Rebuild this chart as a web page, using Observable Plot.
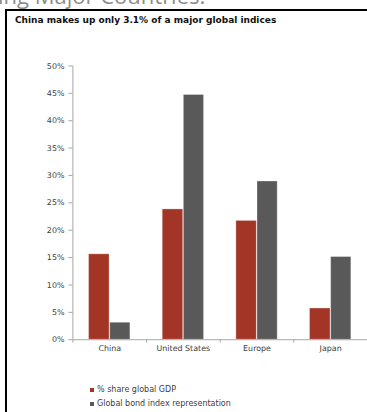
<!DOCTYPE html>
<html>
<head>
<meta charset="utf-8">
<script src="https://cdn.jsdelivr.net/npm/d3@7"></script>
<script src="https://cdn.jsdelivr.net/npm/@observablehq/plot@0.6"></script>
<style>
  html, body { margin: 0; padding: 0; background: #fff; }
  body { width: 367px; height: 412px; overflow: hidden; position: relative; }
  #bgtitle { position: absolute; left: -2px; top: -16px; font-family: "Open Sans", sans-serif; font-size: 22px; line-height: 22px; color: #8c8c8c; white-space: nowrap; }
  #box { position: absolute; left: 5px; top: 9px; width: 420px; height: 460px; border-left: 2px solid #000; border-top: 2px solid #000; }
  #title { position: absolute; left: 15px; top: 15px; font-family: "DejaVu Sans", sans-serif; font-weight: bold; font-size: 9px; color: #111; white-space: nowrap; }
  #chart { position: absolute; left: 0; top: 0; }
  #legend { position: absolute; left: 90px; top: 383px; font-family: "DejaVu Sans", sans-serif; font-size: 8px; color: #404040; }
  .row { display: flex; align-items: center; height: 13.5px; white-space: nowrap; }
  .sw { width: 4px; height: 4px; margin-right: 3px; margin-top: 1px; }
</style>
</head>
<body>
<div id="bgtitle">ing Major Countries.</div>
<div id="box"></div>
<div id="title">China makes up only 3.1% of a major global indices</div>
<div id="chart"></div>
<div id="legend"></div>
<script>
const categories = ["China", "United States", "Europe", "Japan"];
const seriesNames = ["% share global GDP", "Global bond index representation"];
const gdpShare = [0.156, 0.238, 0.217, 0.057];
const bondShare = [0.031, 0.447, 0.289, 0.151];
const yTicks = [0, 0.05, 0.10, 0.15, 0.20, 0.25, 0.30, 0.35, 0.40, 0.45, 0.50];
const seriesColors = ["#A33527", "#595959"];

const axisColor = "#a6a6a6";
const labelColor = "#404040";
const W = 370, ML = 73, MR = 0, MT = 66, MB = 20, H = 362;
const half = (W - ML - MR) / categories.length / 2;

const data = categories.map((c, i) => ({category: c, gdp: gdpShare[i], bond: bondShare[i]}));

const chart = Plot.plot({
  width: W, height: H,
  marginLeft: ML, marginRight: MR, marginTop: MT, marginBottom: MB,
  style: {fontFamily: "DejaVu Sans", fontSize: "8px", background: "transparent", overflow: "visible"},
  x: {domain: categories, padding: 0, round: false, label: null},
  y: {domain: [0, 0.5], label: null},
  marks: [
    Plot.barY(data, {x: "category", y: "gdp", fill: seriesColors[0], insetLeft: 16.3, insetRight: 37.3, stroke: "#fff", strokeOpacity: 0.3}),
    Plot.barY(data, {x: "category", y: "bond", fill: seriesColors[1], insetLeft: 37.6, insetRight: 16.3, stroke: "#fff", strokeOpacity: 0.3}),
    Plot.ruleY([0], {stroke: axisColor}),
    Plot.ruleX([categories[0]], {x: d => d, y1: 0, y2: 0.5, dx: -half, stroke: axisColor}),
    Plot.axisY({ticks: yTicks, tickFormat: d => Math.round(d * 100) + "%", tickSize: 4, tickPadding: 4.5, stroke: axisColor, fill: labelColor}),
    Plot.axisX({tickSize: 3.5, fill: "none", dx: -half, stroke: axisColor}),
    Plot.axisX({tickSize: 0, tickPadding: 6, fill: labelColor})
  ]
});
document.getElementById("chart").appendChild(chart);

const legend = document.getElementById("legend");
seriesNames.forEach((name, i) => {
  const row = document.createElement("div");
  row.className = "row";
  const sw = document.createElement("span");
  sw.className = "sw";
  sw.style.background = seriesColors[i];
  const tx = document.createElement("span");
  tx.textContent = name;
  row.appendChild(sw);
  row.appendChild(tx);
  legend.appendChild(row);
});
</script>
</body>
</html>
